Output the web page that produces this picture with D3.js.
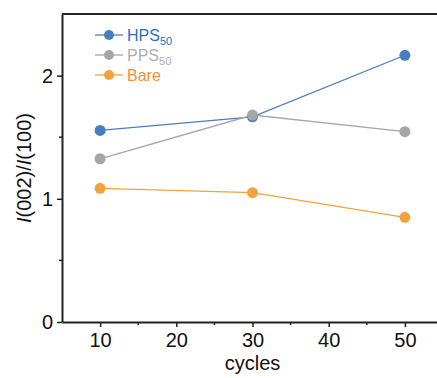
<!DOCTYPE html>
<html>
<head>
<meta charset="utf-8">
<script src="https://cdn.jsdelivr.net/npm/d3@7"></script>
<style>
  body { margin: 0; background: #fff; }
  svg { display: block; font-family: Arial, "Liberation Sans", sans-serif; }
</style>
</head>
<body>
<div id="chart"></div>
<script>
// data
const cycles = [10, 30, 50];
const hps50 = [1.555, 1.665, 2.165];
const pps50 = [1.325, 1.68, 1.545];
const bare = [1.085, 1.05, 0.85];
const xTicks = [10, 20, 30, 40, 50];
const yTicks = [0, 1, 2];

const series = [
  {name: "HPS", sub: "50", values: hps50, color: "#4a7dbf", text: "#2a6fc0"},
  {name: "PPS", sub: "50", values: pps50, color: "#a6a6a6", text: "#adadad"},
  {name: "Bare", sub: "", values: bare, color: "#f2a23e", text: "#f0902e"}
];

const W = 437, H = 378;
const svg = d3.select("#chart").append("svg")
  .attr("width", W)
  .attr("height", H);

const x = d3.scaleLinear().domain([5, 55]).range([62, 443]);
const y = d3.scaleLinear().domain([0, 2.5]).range([322, 14]);

// top frame line
svg.append("line")
  .attr("x1", x(5)).attr("x2", x(55))
  .attr("y1", y(2.5)).attr("y2", y(2.5))
  .attr("stroke", "#222").attr("stroke-width", 2);

// x axis
const xAxis = svg.append("g")
  .attr("transform", "translate(0," + y(0) + ")")
  .call(d3.axisBottom(x).tickValues(xTicks).tickFormat(d3.format("d"))
    .tickSize(5).tickPadding(6).tickSizeOuter(0));
xAxis.append("g").selectAll("line")
  .data([15, 25, 35, 45])
  .enter().append("line")
    .attr("x1", d => x(d)).attr("x2", d => x(d))
    .attr("y1", 0).attr("y2", 3)
    .attr("stroke", "#222").attr("stroke-width", 1.5);

// y axis
const yAxis = svg.append("g")
  .attr("transform", "translate(" + x(5) + ",0)")
  .call(d3.axisLeft(y).tickValues(yTicks).tickFormat(d3.format("d"))
    .tickSize(5).tickPadding(4).tickSizeOuter(0));
yAxis.append("g").selectAll("line")
  .data([0.5, 1.5])
  .enter().append("line")
    .attr("y1", d => y(d)).attr("y2", d => y(d))
    .attr("x1", 0).attr("x2", -3)
    .attr("stroke", "#222").attr("stroke-width", 1.5);

svg.selectAll(".domain").attr("stroke", "#222").attr("stroke-width", 2);
svg.selectAll(".tick line").attr("stroke", "#222").attr("stroke-width", 1.5);
svg.selectAll(".tick text").attr("font-size", 20).attr("fill", "#111")
  .attr("font-family", "Arial, 'Liberation Sans', sans-serif");

// axis titles
svg.append("text")
  .attr("x", x(30)).attr("y", 370)
  .attr("text-anchor", "middle")
  .attr("font-size", 20).attr("fill", "#111")
  .text("cycles");

const yt = svg.append("text")
  .attr("transform", "translate(31," + ((y(0) + y(2.5)) / 2) + ") rotate(-90)")
  .attr("text-anchor", "middle")
  .attr("font-size", 20).attr("fill", "#111");
yt.append("tspan").attr("font-style", "italic").text("I");
yt.append("tspan").text("(002)/");
yt.append("tspan").attr("font-style", "italic").text("I");
yt.append("tspan").text("(100)");

// lines and points
const line = d3.line()
  .x((d, i) => x(cycles[i]))
  .y(d => y(d));

series.forEach(s => {
  svg.append("path")
    .datum(s.values)
    .attr("d", line)
    .attr("fill", "none")
    .attr("stroke", s.color)
    .attr("stroke-width", 1.3);
});
series.forEach(s => {
  svg.append("g").selectAll("circle")
    .data(s.values)
    .enter().append("circle")
      .attr("cx", (d, i) => x(cycles[i]))
      .attr("cy", d => y(d))
      .attr("r", 5.5)
      .attr("fill", s.color);
});

// legend
const legend = svg.append("g");
series.forEach((s, i) => {
  const ly = 35 + i * 20;
  legend.append("line")
    .attr("x1", 95).attr("x2", 123)
    .attr("y1", ly).attr("y2", ly)
    .attr("stroke", s.color).attr("stroke-width", 1.3);
  legend.append("circle")
    .attr("cx", 109).attr("cy", ly).attr("r", 5)
    .attr("fill", s.color);
  const t = legend.append("text")
    .attr("x", 127).attr("y", ly + 6)
    .attr("font-size", 16).attr("fill", s.text)
    .text(s.name);
  if (s.sub) {
    t.append("tspan").attr("font-size", 11).attr("dy", 4).text(s.sub);
  }
});
</script>
</body>
</html>
